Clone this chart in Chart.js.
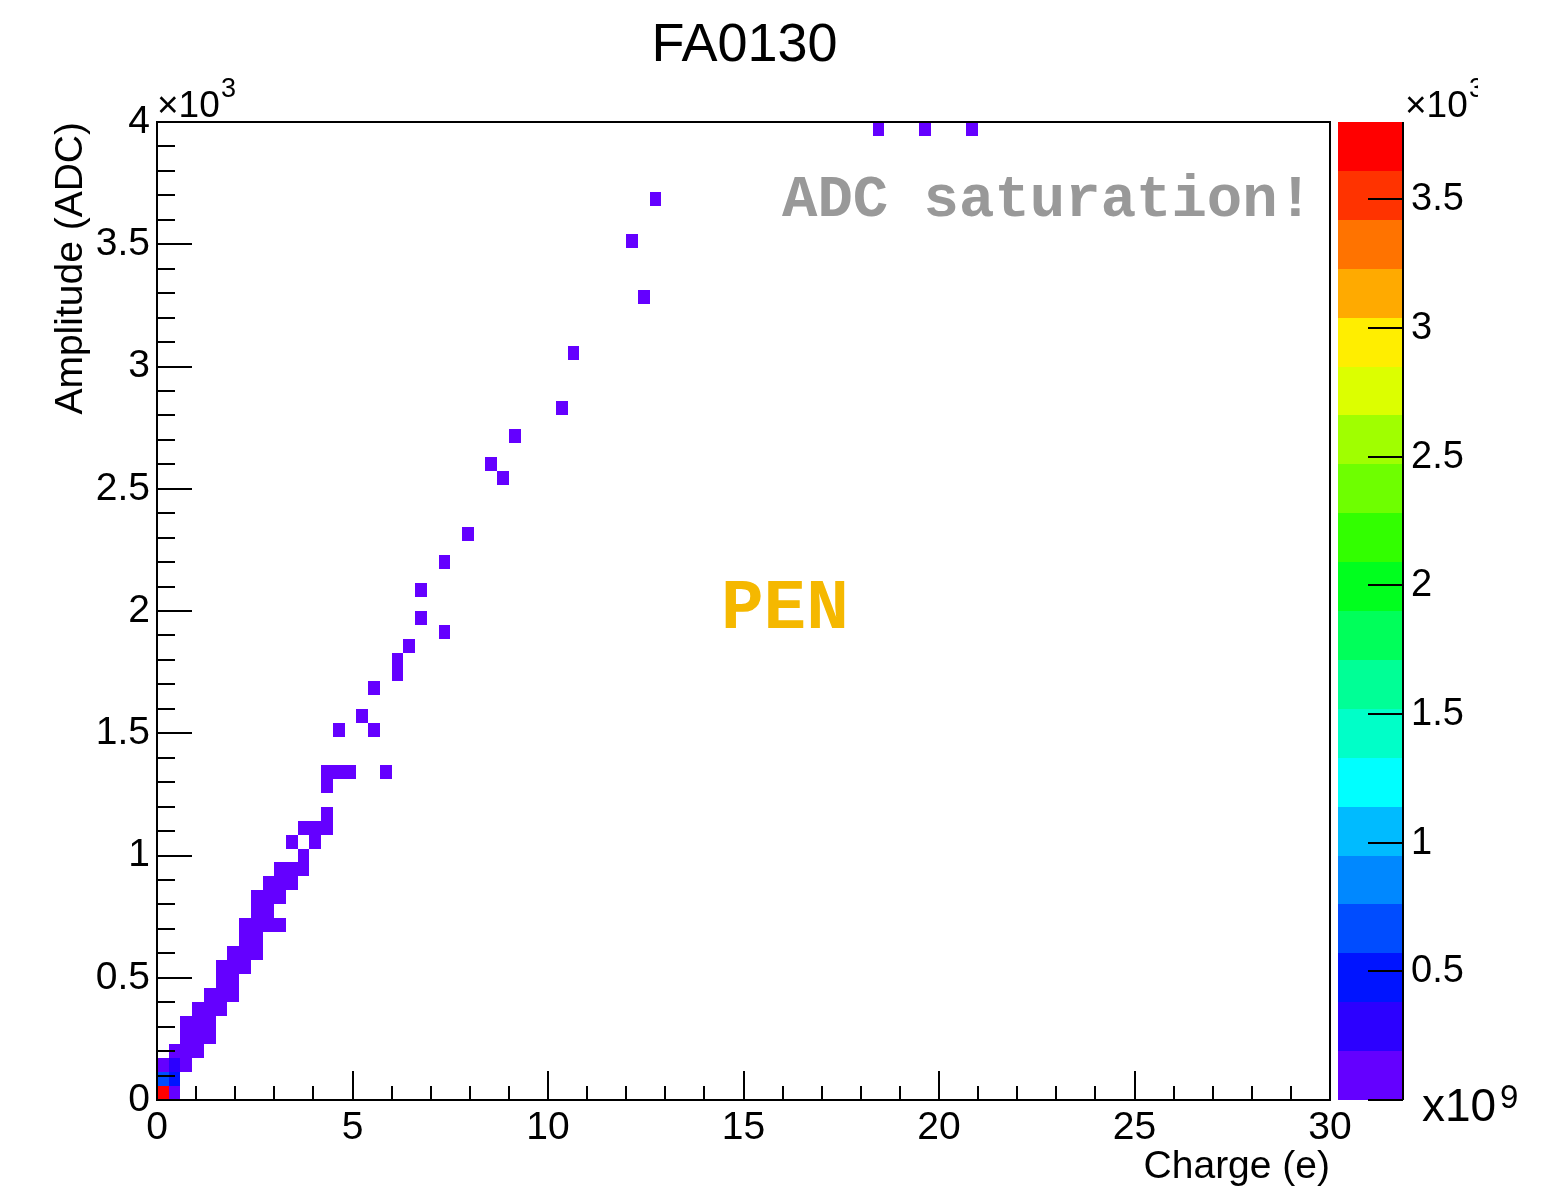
<!DOCTYPE html>
<html>
<head>
<meta charset="utf-8">
<title>FA0130</title>
<script src="https://cdn.jsdelivr.net/npm/chart.js@4.4.0/dist/chart.umd.min.js"></script>
<style>
  html, body { margin: 0; padding: 0; background: #fff; }
  #wrap { width: 1563px; height: 1193px; position: relative; }
</style>
</head>
<body>
<div id="wrap"><canvas id="hist"></canvas></div>
<script>
// 2D histogram bins: low edge of charge bin, low edge of amplitude bin, content
const binCharge = [
    0, 0.3,
    0, 0.3,
    0, 0.3, 0.6,
    0.3, 0.6, 0.9,
    0.6, 0.9, 1.2,
    0.6, 0.9, 1.2,
    0.9, 1.2, 1.5,
    1.2, 1.5, 1.8,
    1.5, 1.8,
    1.5, 1.8, 2.1,
    1.8, 2.1, 2.4,
    2.1, 2.4,
    2.1, 2.4, 2.7, 3.0,
    2.4, 2.7,
    2.4, 2.7, 3.0,
    2.7, 3.0, 3.3,
    3.0, 3.3, 3.6,
    3.6,
    3.3, 3.9,
    3.6, 3.9, 4.2,
    4.2,
    4.2,
    4.2, 4.5, 4.8, 5.7,
    4.5, 5.4,
    5.1,
    5.4,
    6.0,
    6.0,
    6.3,
    7.2,
    6.6,
    6.6,
    7.2,
    7.8,
    8.7,
    8.4,
    9.0,
    10.2,
    10.5,
    12.3,
    12.0,
    12.6,
    18.3, 19.5, 20.7
];
const binAmplitude = [
    0, 0,
    57.1, 57.1,
    114.3, 114.3, 114.3,
    171.4, 171.4, 171.4,
    228.6, 228.6, 228.6,
    285.7, 285.7, 285.7,
    342.9, 342.9, 342.9,
    400, 400, 400,
    457.1, 457.1,
    514.3, 514.3, 514.3,
    571.4, 571.4, 571.4,
    628.6, 628.6,
    685.7, 685.7, 685.7, 685.7,
    742.9, 742.9,
    800, 800, 800,
    857.1, 857.1, 857.1,
    914.3, 914.3, 914.3,
    971.4,
    1028.6, 1028.6,
    1085.7, 1085.7, 1085.7,
    1142.9,
    1257.1,
    1314.3, 1314.3, 1314.3, 1314.3,
    1485.7, 1485.7,
    1542.9,
    1657.1,
    1714.3,
    1771.4,
    1828.6,
    1885.7,
    1942.9,
    2057.1,
    2171.4,
    2285.7,
    2514.3,
    2571.4,
    2685.7,
    2800,
    3028.6,
    3257.1,
    3485.7,
    3657.1,
    3942.9, 3942.9, 3942.9
];
const binContent = [
    3800, 120,
    660, 470,
    150, 290, 90,
    60, 70, 50,
    40, 60, 40,
    40, 50, 40,
    40, 50, 30,
    30, 40, 30,
    40, 30,
    30, 40, 20,
    30, 40, 20,
    30, 30,
    20, 30, 20, 10,
    30, 20,
    20, 30, 20,
    20, 20, 10,
    10, 20, 20,
    10,
    10, 10,
    10, 10, 10,
    10,
    10,
    10, 10, 10, 10,
    10, 10,
    10,
    10,
    10,
    10,
    10,
    10,
    10,
    10,
    10,
    10,
    10,
    10,
    10,
    10,
    10,
    10,
    10,
    10,
    10, 10, 10
];
const binWidthCharge = 0.3;
const binWidthAmplitude = 4000 / 70;

// axis ranges and tick labels
const chargeRange = [0, 30];
const amplitudeRange = [0, 4000];
const contentRange = [0, 3800];
const contentTicks = [0, 500, 1000, 1500, 2000, 2500, 3000, 3500];

// colour levels of the palette, lowest first
const palette = [
    '#6400ff', '#2c00ff', '#0014ff', '#004cff', '#0088ff',
    '#00bbff', '#00ffff', '#00ffc8', '#00ff96', '#00ff5a',
    '#00ff1e', '#32ff00', '#6eff00', '#a0ff00', '#dcff00',
    '#ffee00', '#ffaa00', '#ff7300', '#ff3300', '#ff0000'
];

const SANS = '"Liberation Sans", Arial, Helvetica, sans-serif';
const MONO = '"Liberation Mono", "Courier New", monospace';

function levelColor(v) {
    const span = contentRange[1] - contentRange[0];
    let k = Math.floor((v - contentRange[0]) / span * palette.length);
    k = Math.max(0, Math.min(palette.length - 1, k));
    return palette[k];
}

function line(ctx, x0, y0, x1, y1) {
    ctx.beginPath();
    ctx.moveTo(x0, y0);
    ctx.lineTo(x1, y1);
    ctx.stroke();
}

const colzPlugin = {
    id: 'colz',
    beforeDatasetsDraw(chart) {
        const ctx = chart.ctx;
        const xs = chart.scales.x, ys = chart.scales.y;
        const pts = chart.data.datasets[0].data;
        ctx.save();
        pts.forEach(p => {
            const x0 = Math.round(xs.getPixelForValue(p.x));
            const x1 = Math.round(xs.getPixelForValue(p.x + binWidthCharge));
            const y0 = Math.round(ys.getPixelForValue(p.y));
            const y1 = Math.round(ys.getPixelForValue(p.y + binWidthAmplitude));
            ctx.fillStyle = levelColor(p.v);
            ctx.fillRect(x0, y1, x1 - x0, y0 - y1);
        });
        ctx.restore();
    },
    afterDraw(chart) {
        const ctx = chart.ctx;
        const area = chart.chartArea;
        const xs = chart.scales.x, ys = chart.scales.y, zs = chart.scales.z;
        ctx.save();
        ctx.strokeStyle = '#000';
        ctx.lineWidth = 2;

        // frame
        ctx.strokeRect(area.left, area.top, area.right - area.left, area.bottom - area.top);

        // x ticks, inward
        for (let v = chargeRange[0]; v <= chargeRange[1]; v += 1) {
            const px = Math.round(xs.getPixelForValue(v));
            const len = v % 5 === 0 ? 29 : 14;
            line(ctx, px, area.bottom, px, area.bottom - len);
        }
        // y ticks, inward
        for (let v = amplitudeRange[0]; v <= amplitudeRange[1]; v += 100) {
            const py = Math.round(ys.getPixelForValue(v));
            const len = v % 500 === 0 ? 35 : 18;
            line(ctx, area.left, py, area.left + len, py);
        }

        // exponent on the y axis
        ctx.fillStyle = '#000';
        ctx.textBaseline = 'alphabetic';
        ctx.textAlign = 'left';
        ctx.font = '37px ' + SANS;
        ctx.fillText('\u00d710', area.left, 117);
        ctx.font = '27px ' + SANS;
        ctx.fillText('3', area.left + 64, 97);

        // title
        ctx.textAlign = 'center';
        ctx.font = '54px ' + SANS;
        ctx.fillText('FA0130', (area.left + area.right) / 2 + 1, 61);

        // palette box
        const boxL = 1338, boxR = 1403;
        const step = (contentRange[1] - contentRange[0]) / palette.length;
        palette.forEach((c, k) => {
            const yb = Math.round(zs.getPixelForValue(contentRange[0] + k * step));
            const yt = Math.round(zs.getPixelForValue(contentRange[0] + (k + 1) * step));
            ctx.fillStyle = c;
            ctx.fillRect(boxL, yt, boxR - boxL, yb - yt);
        });
        ctx.strokeStyle = '#000';
        line(ctx, boxR, zs.getPixelForValue(contentRange[1]), boxR, zs.getPixelForValue(contentRange[0]));
        ctx.fillStyle = '#000';
        ctx.textAlign = 'left';
        ctx.textBaseline = 'middle';
        ctx.font = '38px ' + SANS;
        contentTicks.forEach(v => {
            const py = Math.round(zs.getPixelForValue(v));
            line(ctx, boxR - 35, py, boxR, py);
            if (v > 0) ctx.fillText(String(v / 1000), boxR + 8, py + 1);
        });
        ctx.textBaseline = 'alphabetic';
        // exponents of the palette axis
        ctx.save();
        ctx.beginPath();
        ctx.rect(boxR, 60, 75, 80);
        ctx.clip();
        ctx.font = '37px ' + SANS;
        ctx.fillText('\u00d710', boxR + 2, 117);
        ctx.font = '27px ' + SANS;
        ctx.fillText('3', boxR + 66, 97);
        ctx.restore();
        ctx.font = '46px ' + SANS;
        ctx.fillText('x10', 1422, 1121);
        ctx.font = '33px ' + SANS;
        ctx.fillText('9', 1500, 1108);

        // annotations
        ctx.font = 'bold 59px ' + MONO;
        ctx.fillStyle = '#999999';
        ctx.fillText('ADC saturation!', 782, 216);
        ctx.font = 'bold 71px ' + MONO;
        ctx.fillStyle = '#f5b800';
        ctx.fillText('PEN', 721, 628);
        ctx.restore();
    }
};

const points = binCharge.map((c, i) => ({ x: c, y: binAmplitude[i], v: binContent[i] }));

const ctx = document.getElementById('hist');
const chart = new Chart(ctx, {
    type: 'scatter',
    data: {
        datasets: [{
            label: 'FA0130',
            data: points,
            pointRadius: 0,
            pointHoverRadius: 0
        }]
    },
    options: {
        responsive: true,
        maintainAspectRatio: false,
        animation: false,
        events: [],
        layout: { padding: { left: 0, right: 233, top: 122, bottom: 0 } },
        plugins: {
            legend: { display: false },
            title: { display: false },
            tooltip: { enabled: false }
        },
        scales: {
            x: {
                type: 'linear',
                position: 'bottom',
                min: chargeRange[0],
                max: chargeRange[1],
                grid: { display: false, drawTicks: false, tickLength: 0 },
                border: { display: false },
                ticks: {
                    stepSize: 5,
                    maxRotation: 0,
                    autoSkip: false,
                    padding: 5,
                    color: '#000',
                    font: { family: SANS, size: 39 }
                },
                title: {
                    display: true,
                    text: 'Charge (e)',
                    align: 'end',
                    color: '#000',
                    font: { family: SANS, size: 39 },
                    padding: { top: 0, bottom: 2 }
                },
                afterFit: s => { s.height = 93; }
            },
            y: {
                type: 'linear',
                position: 'left',
                min: amplitudeRange[0],
                max: amplitudeRange[1],
                grid: { display: false, drawTicks: false, tickLength: 0 },
                border: { display: false },
                ticks: {
                    stepSize: 500,
                    padding: 7,
                    color: '#000',
                    font: { family: SANS, size: 39 },
                    callback: v => String(v / 1000)
                },
                title: {
                    display: true,
                    text: 'Amplitude (ADC)',
                    align: 'end',
                    color: '#000',
                    font: { family: SANS, size: 39 },
                    padding: { top: 48, bottom: 0 }
                },
                afterFit: s => { s.width = 157; }
            },
            z: {
                type: 'linear',
                position: 'right',
                display: false,
                min: contentRange[0],
                max: contentRange[1]
            }
        }
    },
    plugins: [colzPlugin]
});
</script>
</body>
</html>
